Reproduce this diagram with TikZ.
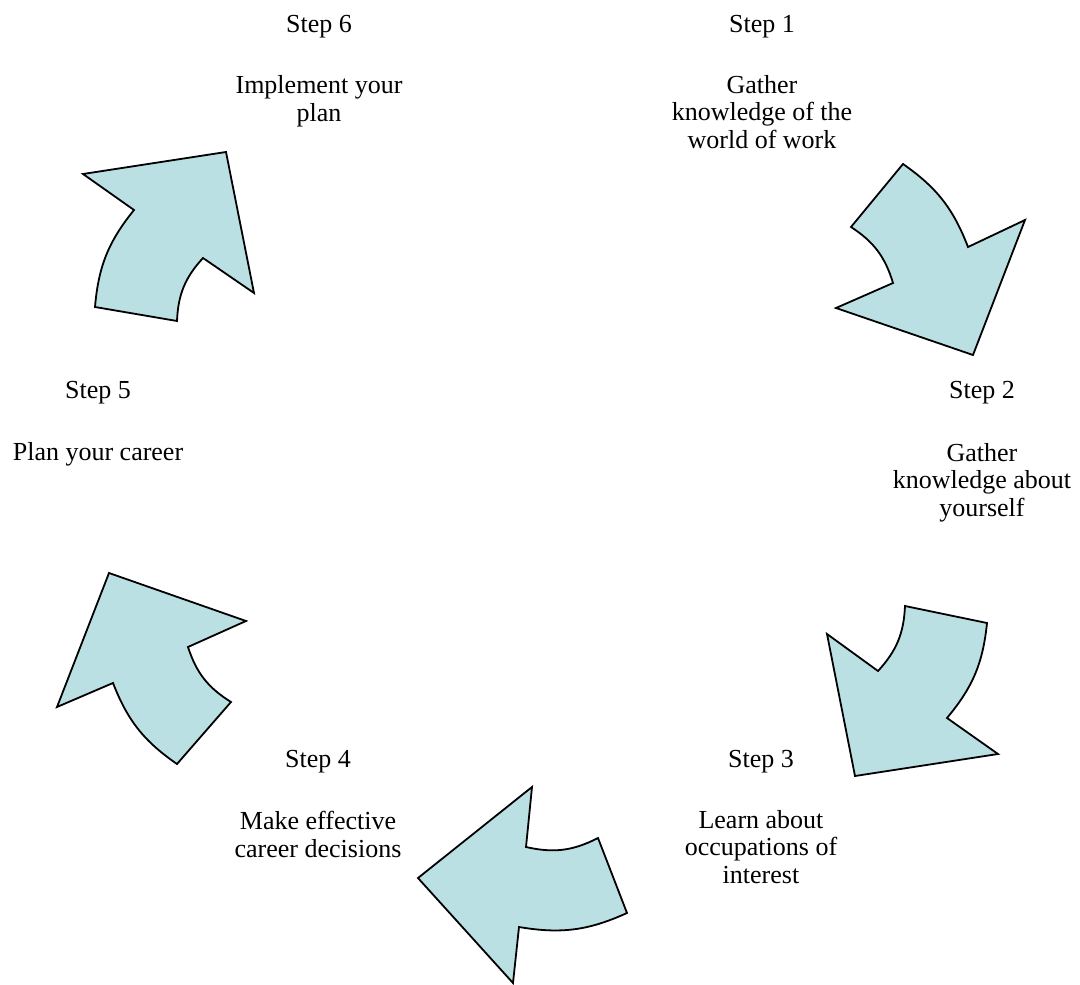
\documentclass[tikz,border=0pt]{standalone}
\usepackage{fontspec}
\setmainfont{Liberation Serif}
\usepackage{xcolor}
\usepackage{tikz}
\usetikzlibrary{positioning,calc}

\definecolor{arrowfill}{HTML}{BBE0E3}

\tikzset{
    steparrow/.style={fill=arrowfill, draw=black, line width=1.8pt, line join=miter},
    steplabel/.style={anchor=base, inner sep=0pt, font=\fontsize{26}{27.5}\selectfont},
    steptext/.style={anchor=base, inner sep=0pt, align=center, font=\fontsize{26}{27.5}\selectfont}
}

\begin{document}
\begin{tikzpicture}[x=1pt, y=-1pt]
    \useasboundingbox (0,0) rectangle (1080,985);

    % base of a text node is its last line
    \node[steplabel] (s1) at (762,32) {Step 1};
    \node[steptext] (t1) at (762,148) {Gather\\knowledge of the\\world of work};
    \node[steplabel] (s2) at (982,398) {Step 2};
    \node[steptext] (t2) at (982,516) {Gather\\knowledge about\\yourself};
    \node[steplabel] (s3) at (761,767) {Step 3};
    \node[steptext] (t3) at (761,883) {Learn about\\occupations of\\interest};
    \node[steplabel] (s4) at (318,767) {Step 4};
    \node[steptext] (t4) at (318,857) {Make effective\\career decisions};
    \node[steplabel] (s5) at (98,398) {Step 5};
    \node[steptext] (t5) at (98,460) {Plan your career};
    \node[steplabel] (s6) at (319,32) {Step 6};
    \node[steptext] (t6) at (319,121) {Implement your\\plan};

    % step 1 to step 2
    \draw[steparrow] (903,164) -- (851,227) to[bend left=20] (893,283) -- (836,308)
        -- (973,355) -- (1025,220) -- (968,247) to[bend right=17] cycle;
    % step 2 to step 3
    \draw[steparrow] (987,623) -- (905,606) to[bend left=20] (878,671) -- (827,634)
        -- (855,776) -- (998,754) -- (947,718) to[bend right=17] cycle;
    % step 3 to step 4
    \draw[steparrow] (627,913) -- (598,838) to[bend left=20] (526,847) -- (532,787)
        -- (418,878) -- (513,983) -- (519,927) to[bend right=17] cycle;
    % step 4 to step 5
    \draw[steparrow] (177,764) -- (231,702) to[bend left=20] (188,647) -- (246,621)
        -- (109,573) -- (57,707) -- (113,683) to[bend right=17] cycle;
    % step 5 to step 6
    \draw[steparrow] (95,307) -- (177,321) to[bend left=20] (203,258) -- (254,293)
        -- (226,152) -- (83,174) -- (134,210) to[bend right=17] cycle;
\end{tikzpicture}
\end{document}
